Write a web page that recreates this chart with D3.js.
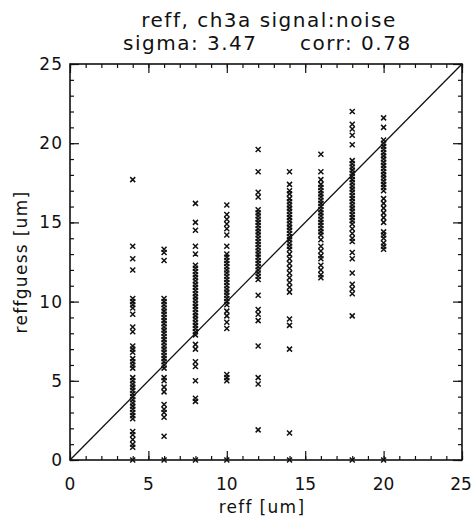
<!DOCTYPE html>
<html>
<head>
<meta charset="utf-8">
<script src="https://cdn.jsdelivr.net/npm/d3@7"></script>
<style>
  body { margin: 0; background: #fff; }
  text { font-family: "DejaVu Sans", sans-serif; fill: #111; }
</style>
</head>
<body>
<div id="chart"></div>
<script>
var width = 472,
    height = 523;

// reff values (columns) and the reffguess values found in each column
var reffValues = [4, 6, 8, 10, 12, 14, 16, 18, 20];
var guess4 = [17.7, 13.5, 12.7, 12.0, 10.2, 10.0, 9.8, 9.6, 9.2, 8.4, 8.1, 7.2, 7.0, 6.8, 6.4, 6.2, 6.0, 5.8, 5.2, 5.0, 4.8, 4.6, 4.4, 4.2, 4.0, 3.8, 3.6, 3.4, 3.2, 3.0, 2.8, 2.6, 1.8, 1.6, 1.3, 1.0, 0.8, 0];
var guess6 = [13.3, 13.1, 12.6, 10.2, 10.0, 9.8, 9.6, 9.4, 9.2, 9.0, 8.8, 8.6, 8.4, 8.2, 8.0, 7.8, 7.6, 7.4, 7.2, 7.0, 6.8, 6.6, 6.4, 6.2, 6.0, 5.8, 5.2, 5.0, 4.6, 4.3, 3.5, 3.2, 3.0, 2.7, 1.5, 0];
var guess8 = [16.2, 15.0, 14.5, 13.5, 13.0, 12.3, 12.1, 11.9, 11.7, 11.5, 11.3, 11.1, 10.9, 10.7, 10.5, 10.3, 10.1, 9.9, 9.7, 9.5, 9.3, 9.1, 8.9, 8.7, 8.5, 8.3, 8.1, 7.9, 7.3, 7.0, 6.2, 5.9, 5.0, 3.9, 3.7, 0];
var guess10 = [16.1, 15.5, 15.2, 14.9, 14.6, 14.2, 13.5, 13.0, 12.8, 12.6, 12.4, 12.2, 12.0, 11.8, 11.6, 11.4, 11.2, 11.0, 10.8, 10.6, 10.4, 10.2, 10.0, 9.8, 9.4, 9.1, 8.7, 8.3, 5.4, 5.2, 5.0, 0];
var guess12 = [19.6, 18.2, 16.9, 16.6, 15.8, 15.6, 15.4, 15.2, 15.0, 14.8, 14.6, 14.4, 14.2, 14.0, 13.8, 13.6, 13.4, 13.2, 13.0, 12.8, 12.6, 12.4, 12.2, 12.0, 11.8, 11.6, 11.4, 10.4, 9.5, 9.2, 8.8, 7.2, 5.2, 4.8, 1.9];
var guess14 = [18.2, 17.4, 17.0, 16.8, 16.5, 16.3, 16.1, 15.9, 15.7, 15.5, 15.3, 15.1, 14.9, 14.7, 14.5, 14.3, 14.1, 13.9, 13.7, 13.5, 13.3, 13.0, 12.7, 12.4, 12.1, 11.8, 11.5, 11.2, 10.9, 10.6, 8.9, 8.5, 7.0, 1.7, 0];
var guess16 = [19.3, 18.2, 17.7, 17.4, 17.2, 17.0, 16.8, 16.6, 16.4, 16.2, 16.0, 15.8, 15.6, 15.4, 15.2, 15.0, 14.8, 14.6, 14.4, 14.2, 13.9, 13.5, 13.2, 12.9, 12.7, 12.3, 12.0, 11.7, 11.5];
var guess18 = [22.0, 21.2, 20.9, 20.5, 19.9, 18.9, 18.7, 18.5, 18.3, 18.1, 17.9, 17.7, 17.5, 17.3, 17.1, 16.9, 16.7, 16.5, 16.3, 16.1, 15.9, 15.7, 15.5, 15.3, 15.1, 14.9, 14.6, 14.3, 14.0, 13.8, 13.1, 12.7, 11.8, 11.1, 10.8, 10.5, 9.1, 0];
var guess20 = [21.6, 21.0, 20.2, 20.0, 19.8, 19.6, 19.4, 19.2, 19.0, 18.8, 18.6, 18.4, 18.2, 18.0, 17.8, 17.6, 17.4, 17.2, 17.0, 16.5, 16.2, 15.9, 15.6, 15.3, 15.0, 14.4, 14.2, 14.0, 13.7, 13.5, 13.3, 0];
var guesses = [guess4, guess6, guess8, guess10, guess12, guess14, guess16, guess18, guess20];

var majorTicks = [0, 5, 10, 15, 20, 25];
var minorTicks = d3.range(0, 26, 1);

var titleLine1 = "reff, ch3a signal:noise";
var sigmaText = "sigma: 3.47";
var corrText = "corr: 0.78";

var points = [];
reffValues.forEach(function(r, i) {
    guesses[i].forEach(function(g) {
        points.push({x: r, y: g});
    });
});

var plotLeft = 70, plotRight = 462, plotTop = 64, plotBottom = 460;

var svg = d3.select("#chart")
    .append("svg")
    .attr("width", width)
    .attr("height", height);

var x = d3.scaleLinear().domain([0, 25]).range([plotLeft, plotRight]);
var y = d3.scaleLinear().domain([0, 25]).range([plotBottom, plotTop]);

// title
svg.append("text")
    .attr("x", 269).attr("y", 27)
    .attr("text-anchor", "middle")
    .style("font-size", "20px")
    .style("letter-spacing", "1.5px")
    .text(titleLine1);
svg.append("text")
    .attr("x", 123).attr("y", 50)
    .style("font-size", "20px")
    .style("letter-spacing", "1.5px")
    .text(sigmaText);
svg.append("text")
    .attr("x", 300).attr("y", 50)
    .style("font-size", "20px")
    .style("letter-spacing", "1.5px")
    .text(corrText);

// ticks on all four sides, inward
function tickAxis(axisFn, scale, vals, len, tr) {
    svg.append("g")
        .attr("transform", tr)
        .call(axisFn(scale).tickValues(vals).tickSize(len).tickFormat(""))
        .call(function(g) { g.select(".domain").remove(); })
        .selectAll("line").attr("stroke", "#111").attr("stroke-width", 1.2);
}
tickAxis(d3.axisTop, x, minorTicks, 4, "translate(0," + plotBottom + ")");
tickAxis(d3.axisTop, x, majorTicks, 9, "translate(0," + plotBottom + ")");
tickAxis(d3.axisBottom, x, minorTicks, 4, "translate(0," + plotTop + ")");
tickAxis(d3.axisBottom, x, majorTicks, 9, "translate(0," + plotTop + ")");
tickAxis(d3.axisRight, y, minorTicks, 4, "translate(" + plotLeft + ",0)");
tickAxis(d3.axisRight, y, majorTicks, 9, "translate(" + plotLeft + ",0)");
tickAxis(d3.axisLeft, y, minorTicks, 4, "translate(" + plotRight + ",0)");
tickAxis(d3.axisLeft, y, majorTicks, 9, "translate(" + plotRight + ",0)");

// tick labels
svg.append("g").selectAll("text").data(majorTicks).enter().append("text")
    .attr("x", function(d) { return d === 25 ? x(d) - 1 : x(d); })
    .attr("y", 490)
    .attr("text-anchor", "middle")
    .style("font-size", "17px")
    .text(function(d) { return d; });
svg.append("g").selectAll("text").data(majorTicks).enter().append("text")
    .attr("x", plotLeft - 7)
    .attr("y", function(d) { return y(d) + 6; })
    .attr("text-anchor", "end")
    .style("font-size", "17px")
    .style("letter-spacing", "1px")
    .text(function(d) { return d; });

// axis titles
svg.append("text")
    .attr("x", 262).attr("y", 513)
    .attr("text-anchor", "middle")
    .style("font-size", "17px")
    .style("letter-spacing", "1.3px")
    .text("reff [um]");
svg.append("text")
    .attr("transform", "translate(27," + ((plotTop + plotBottom) / 2) + ") rotate(-90)")
    .attr("text-anchor", "middle")
    .style("font-size", "17px")
    .style("letter-spacing", "1.3px")
    .text("reffguess [um]");

// 1:1 line
svg.append("line")
    .attr("x1", x(0)).attr("y1", y(0))
    .attr("x2", x(25)).attr("y2", y(25))
    .attr("stroke", "#111")
    .attr("stroke-width", 1.3);

// points
svg.append("g").selectAll("path").data(points).enter().append("path")
    .attr("transform", function(d) { return "translate(" + x(d.x) + "," + y(d.y) + ")"; })
    .attr("d", "M-2.5,-2.5L2.5,2.5M-2.5,2.5L2.5,-2.5")
    .attr("stroke", "#111")
    .attr("stroke-width", 1.5)
    .attr("fill", "none");

// frame
svg.append("rect")
    .attr("x", plotLeft).attr("y", plotTop)
    .attr("width", plotRight - plotLeft).attr("height", plotBottom - plotTop)
    .attr("fill", "none")
    .attr("stroke", "#111")
    .attr("stroke-width", 1.6);
</script>
</body>
</html>
